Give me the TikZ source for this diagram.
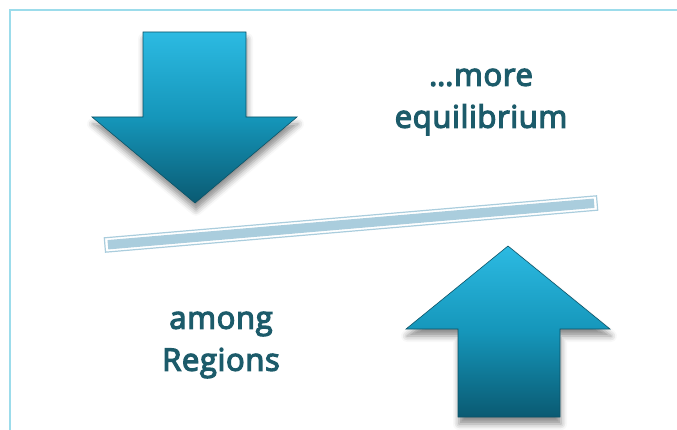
\documentclass[tikz,border=0pt]{standalone}
\usepackage{fontspec}
\setmainfont{Open Sans}
\newfontfamily\capfont{Open Sans}[FakeBold=4, LetterSpace=2]
\usepackage{tikz}
\usetikzlibrary{shadows.blur}
\definecolor{framecyan}{HTML}{9CDCEB}
\definecolor{txtteal}{HTML}{1C5B6A}
\definecolor{arrowtop}{HTML}{2CBAE2}
\definecolor{arrowmid}{HTML}{1596BA}
\definecolor{arrowbot}{HTML}{0A5A72}
\definecolor{arrowedge}{HTML}{0C5266}
\definecolor{barblue}{HTML}{AACDDD}
\tikzset{
    bigarrow/.style={%
        top color=arrowtop, bottom color=arrowbot, middle color=arrowmid,
        draw=arrowedge, line width=0.6pt, line join=miter,
        blur shadow={shadow xshift=1pt, shadow yshift=-7pt,
            shadow blur radius=6pt, shadow opacity=45}
    },
    caption/.style={%
        font=\fontsize{31}{42}\selectfont\capfont,
        text=txtteal, align=center, inner sep=0pt
    }
}

\begin{document}
\begin{tikzpicture}[x=1pt, y=-1pt]
        \useasboundingbox (0,0) rectangle (677,430);
        % frame
        \draw[framecyan, line width=2.5pt] (677,10) -- (10,10) -- (10,430);

        % arrows
        \path[bigarrow] (143,32) -- (246,32) -- (246,117) -- (297,117)
            -- (195,203) -- (92,117) -- (143,117) -- cycle;
        \path[bigarrow] (508,246) -- (610,329) -- (560,329) -- (560,417)
            -- (458,417) -- (458,329) -- (406,329) -- cycle;

        % tilted bar
        \begin{scope}[shift={(351,224)}, rotate=4.88]
            \draw[barblue, line width=1.2pt, fill=white] (-247,-7.2) rectangle (247,7.2);
            \fill[barblue] (-244,-4.7) rectangle (244,4.7);
        \end{scope}

        \node[caption] (more)    at (481,102) {…more\\equilibrium};
        \node[caption] (regions) at (221,345) {among\\Regions};
    \end{tikzpicture}
\end{document}
